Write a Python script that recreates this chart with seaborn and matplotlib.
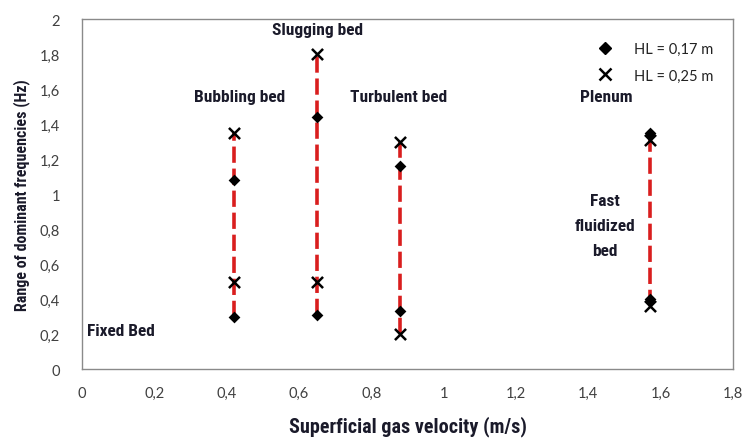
import matplotlib
matplotlib.use("Agg")
import matplotlib.pyplot as plt
import seaborn as sns
import pandas as pd
from matplotlib.ticker import FuncFormatter, MultipleLocator
from matplotlib.lines import Line2D
from matplotlib import font_manager

# Superficial gas velocity (m/s) for each regime column
velocity = [0.42, 0.65, 0.88, 1.57]
# Lowest / highest dominant frequency (Hz) for bed height 0.17 m
hl017_low = [0.30, 0.31, 0.33, 0.40]
hl017_high = [1.08, 1.44, 1.16, 1.35]
# Lowest / highest dominant frequency (Hz) for bed height 0.25 m
hl025_low = [0.50, 0.50, 0.20, 0.36]
hl025_high = [1.35, 1.80, 1.30, 1.31]

series_labels = ["HL = 0,17 m", "HL = 0,25 m"]

sns.set_theme(style="white")
plt.rcParams["font.family"] = ["Lato", "DejaVu Sans"]

# pick a narrow bold face for the annotations when one is available
names = {f.name for f in font_manager.fontManager.ttflist}
narrow = [n for n in ["Liberation Sans Narrow", "DejaVu Sans Condensed",
                      "Roboto Condensed", "Open Sans Condensed"] if n in names]
cond = narrow[:1] + ["Roboto", "DejaVu Sans"]
stretch = "condensed"

rows = []
for v, a, b in zip(velocity, hl017_low, hl017_high):
    rows += [(v, a, series_labels[0]), (v, b, series_labels[0])]
for v, a, b in zip(velocity, hl025_low, hl025_high):
    rows += [(v, a, series_labels[1]), (v, b, series_labels[1])]
df = pd.DataFrame(rows, columns=["velocity", "freq", "HL"])

fig = plt.figure(figsize=(7.47, 4.39), dpi=100)
ax = fig.add_axes([0.1098, 0.157, 0.8715, 0.797])

# red dashed span from the lowest to the highest frequency of each column
span = df.groupby("velocity")["freq"].agg(["min", "max"]).reset_index()
for _, r in span.iterrows():
    ax.plot([r["velocity"], r["velocity"]], [r["min"], r["max"]],
            color="#d91e1e", lw=2.6, dashes=(4.5, 1.6), zorder=2,
            dash_capstyle="butt")

sns.scatterplot(data=df[df["HL"] == series_labels[0]], x="velocity", y="freq",
                marker="D", color="black", s=36, linewidth=0,
                legend=False, ax=ax, zorder=3)
sns.scatterplot(data=df[df["HL"] == series_labels[1]], x="velocity", y="freq",
                marker="x", color="black", s=64, linewidth=1.8,
                legend=False, ax=ax, zorder=3)

ax.set_xlim(0, 1.8)
ax.set_ylim(0, 2)
ax.xaxis.set_major_locator(MultipleLocator(0.2))
ax.yaxis.set_major_locator(MultipleLocator(0.2))
fmt = FuncFormatter(lambda v, p: ("%g" % round(v, 2)).replace(".", ","))
ax.xaxis.set_major_formatter(fmt)
ax.yaxis.set_major_formatter(fmt)
ax.tick_params(axis="both", length=0, labelsize=10.5, labelcolor="#404040")
ax.tick_params(axis="x", pad=12)
ax.tick_params(axis="y", pad=16)
for s in ax.spines.values():
    s.set_color("#8a8a8a")
    s.set_linewidth(1.0)

ax.set_xlabel("Superficial gas velocity (m/s)", family=cond, fontstretch=stretch,
              fontweight="bold", fontsize=14.5, labelpad=11, color="#1a1a2a")
ax.set_ylabel("Range of dominant frequencies (Hz)", family=cond, fontstretch=stretch,
              fontweight="bold", fontsize=11.5, labelpad=7, color="#1a1a2a")

lab = dict(family=cond, fontstretch=stretch, fontweight="bold", fontsize=12.5,
           color="#1a1a2a")
ax.text(0.65, 1.94, "Slugging bed", ha="center", va="center", **lab)
ax.text(0.435, 1.56, "Bubbling bed", ha="center", va="center", **lab)
ax.text(0.875, 1.56, "Turbulent bed", ha="center", va="center", **lab)
ax.text(0.015, 0.22, "Fixed Bed", ha="left", va="center", **lab)
ax.text(1.445, 0.82, "Fast\nfluidized\nbed", ha="center", va="center",
        linespacing=1.85, **lab)
ax.text(1.45, 1.56, "Plenum", ha="center", va="center", **lab)

handles = [Line2D([], [], marker="D", color="black", ls="none", markersize=6),
           Line2D([], [], marker="x", color="black", ls="none", markersize=8,
                  markeredgewidth=1.8)]
ax.legend(handles, series_labels, loc="upper right", bbox_to_anchor=(0.99, 0.972),
          frameon=False, fontsize=10.5, handletextpad=1.0, labelspacing=0.85,
          labelcolor="#222222")

fig.savefig("out.png", dpi=100)
